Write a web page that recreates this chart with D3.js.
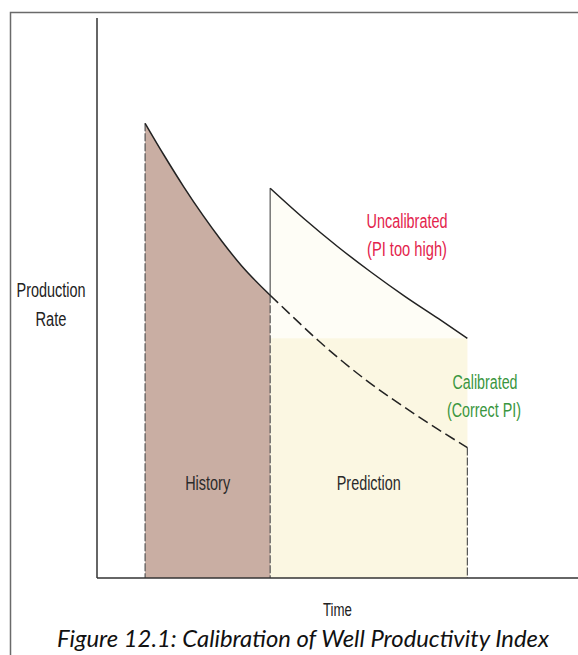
<!DOCTYPE html>
<html>
<head>
<meta charset="utf-8">
<script src="https://cdn.jsdelivr.net/npm/d3@7/dist/d3.min.js"></script>
<style>
  html, body { margin: 0; padding: 0; background: #fff; }
  svg { display: block; }
</style>
</head>
<body>
<svg id="chart" width="578" height="655"></svg>
<script>
// Period boundaries on the time axis (history start, history end / prediction start, prediction end)
const periodNames = ["History", "Prediction"];
const periodBounds = [10, 36, 77];

// Calibrated decline: solid through history, dashed through prediction
const calibratedTime = [10, 14, 18, 22, 26, 30, 36, 41, 46, 51, 56, 61, 66, 71, 77];
const calibratedRate = [81.2, 75.4, 69.9, 64.8, 60.1, 55.8, 50.5, 46.4, 42.4, 38.7, 35.3, 32.2, 29.3, 26.5, 23.3];

// Uncalibrated forecast (PI too high)
const uncalibratedTime = [36, 43, 50, 57, 64, 71, 77];
const uncalibratedRate = [69.6, 64.2, 59.2, 54.6, 50.3, 46.3, 42.8];

const axisLabels = { y: ["Production", "Rate"], x: "Time" };
const seriesLabels = {
  uncalibrated: ["Uncalibrated", "(PI too high)"],
  calibrated: ["Calibrated", "(Correct PI)"]
};
const caption = "Figure 12.1: Calibration of Well Productivity Index";

const svg = d3.select("#chart");

const x = d3.scaleLinear().domain([0, 100]).range([97, 578]);
const y = d3.scaleLinear().domain([0, 100]).range([578, 18]);

const calibrated = calibratedTime.map((t, i) => ({ t, r: calibratedRate[i] }));
const uncalibrated = uncalibratedTime.map((t, i) => ({ t, r: uncalibratedRate[i] }));
const [tStart, tSplit, tEnd] = periodBounds;
const calHistory = calibrated.filter(d => d.t <= tSplit);
const calPrediction = calibrated.filter(d => d.t >= tSplit);

// outer frame
svg.append("rect")
  .attr("x", 10.5).attr("y", 12.5)
  .attr("width", 700).attr("height", 700)
  .attr("fill", "none").attr("stroke", "#6a6a6a").attr("stroke-width", 1.5);

const line = d3.line().x(d => x(d.t)).y(d => y(d.r)).curve(d3.curveMonotoneX);
const area = d3.area().x(d => x(d.t)).y0(y(0)).y1(d => y(d.r)).curve(d3.curveMonotoneX);

// prediction shading: faint under the uncalibrated curve, cream below its final level
const lastUncal = uncalibratedRate[uncalibratedRate.length - 1];
svg.append("path").datum(uncalibrated)
  .attr("d", area).attr("fill", "#fefdf6");
svg.append("rect")
  .attr("x", x(tSplit)).attr("width", x(tEnd) - x(tSplit))
  .attr("y", y(lastUncal))
  .attr("height", y(0) - y(lastUncal))
  .attr("fill", "#fbf7e2");

// history shading under the calibrated curve
svg.append("path").datum(calHistory)
  .attr("d", area).attr("fill", "#c9aea3");

// period boundaries
const boundaryTop = [calibratedRate[0], calPrediction[0].r, calibratedRate[calibratedRate.length - 1]];
svg.selectAll("line.bound").data(periodBounds).join("line")
  .attr("class", "bound")
  .attr("x1", d => x(d)).attr("x2", d => x(d))
  .attr("y1", (d, i) => y(boundaryTop[i])).attr("y2", y(0))
  .attr("stroke", "#555").attr("stroke-width", 1.2)
  .attr("stroke-dasharray", "8,2");
// solid riser at the start of the uncalibrated forecast
svg.append("line")
  .attr("x1", x(tSplit)).attr("x2", x(tSplit))
  .attr("y1", y(uncalibratedRate[0])).attr("y2", y(calPrediction[0].r))
  .attr("stroke", "#555").attr("stroke-width", 1.2);

// curves
svg.append("path").datum(calHistory)
  .attr("d", line).attr("fill", "none").attr("stroke", "#222").attr("stroke-width", 1.5);
svg.append("path").datum(calPrediction)
  .attr("d", line).attr("fill", "none").attr("stroke", "#222").attr("stroke-width", 1.5)
  .attr("stroke-dasharray", "11,5");
svg.append("path").datum(uncalibrated)
  .attr("d", line).attr("fill", "none").attr("stroke", "#222").attr("stroke-width", 1.5);

// axes (plain lines, no ticks)
svg.append("line")
  .attr("x1", x(0)).attr("x2", x(0)).attr("y1", y(100)).attr("y2", y(0))
  .attr("stroke", "#333").attr("stroke-width", 1.5);
svg.append("line")
  .attr("x1", x(0)).attr("x2", x(100)).attr("y1", y(0)).attr("y2", y(0))
  .attr("stroke", "#333").attr("stroke-width", 1.5);

// condensed label helper
function label(txt, cx, baseline, width, size, color) {
  svg.append("text")
    .attr("x", cx).attr("y", baseline)
    .attr("text-anchor", "middle")
    .attr("font-family", "Liberation Sans, Arial, sans-serif")
    .attr("font-size", size)
    .attr("fill", color)
    .attr("textLength", width)
    .attr("lengthAdjust", "spacingAndGlyphs")
    .text(txt);
}

label(axisLabels.y[0], 51, 297, 69, 20, "#222");
label(axisLabels.y[1], 51, 326, 31, 20, "#222");
label(axisLabels.x, x(50), 616, 29, 18, "#222");

label(periodNames[0], (x(tStart) + x(tSplit)) / 2, 490, 45, 20, "#2a2a2a");
label(periodNames[1], (x(tSplit) + x(tEnd)) / 2, 490, 64, 20, "#2a2a2a");

label(seriesLabels.uncalibrated[0], 407, 228, 81, 20, "#e3234c");
label(seriesLabels.uncalibrated[1], 407, 256, 80, 20, "#e3234c");
label(seriesLabels.calibrated[0], 485, 389, 65, 20, "#3a9640");
label(seriesLabels.calibrated[1], 484, 417, 74, 20, "#3a9640");

// figure caption
svg.append("text")
  .attr("x", 303).attr("y", 647)
  .attr("text-anchor", "middle")
  .attr("font-family", "Lato, 'Open Sans', sans-serif")
  .attr("font-style", "italic")
  .attr("font-size", 24)
  .attr("fill", "#111")
  .attr("textLength", 492)
  .attr("lengthAdjust", "spacingAndGlyphs")
  .text(caption);
</script>
</body>
</html>
